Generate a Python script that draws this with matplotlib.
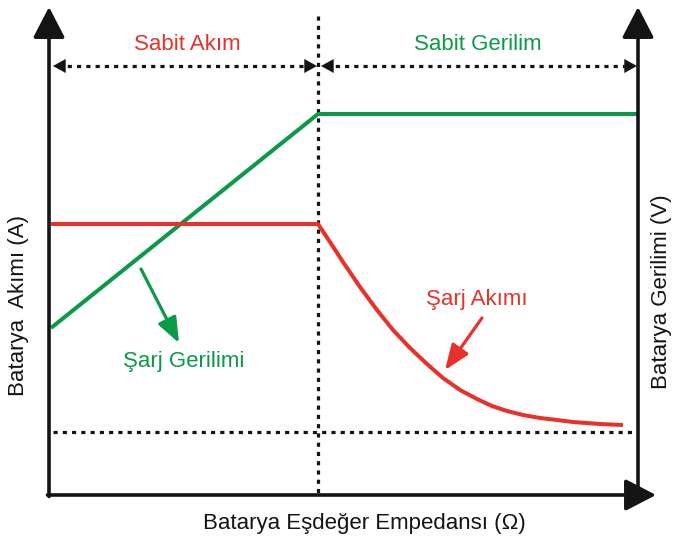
import matplotlib
matplotlib.use("Agg")
import matplotlib.pyplot as plt

plt.rcParams['font.family'] = ['Liberation Sans', 'DejaVu Sans']

RED = '#e8312a'
GREEN = '#0a9a48'
BLACK = '#141414'

# schematic coordinates (x to the right, y downward)
x_left, x_split, x_right = 49, 318, 638
y_top, y_base = 7, 495
y_dot_floor = 432
y_span = 66

# charging voltage: ramp in constant-current zone, flat afterwards
volt_x = [51, 318, 638]
volt_y = [328, 114, 114]

# charging current: flat, then decaying towards the floor line
amp_x = [51, 318, 330, 343, 360, 377, 393, 410, 427, 443, 460, 477, 492, 507, 523, 540, 557, 573, 600, 623]
amp_y = [224, 224, 242, 262, 287, 310, 330, 348, 364, 378, 390, 399, 406, 411, 415, 418, 420, 422, 424, 425]

zone_labels = ['Sabit Akım', 'Sabit Gerilim']
zone_x = [187, 478]
zone_colors = [RED, GREEN]

fig = plt.figure(figsize=(6.77, 5.45), dpi=100)
ax = fig.add_axes([0, 0, 1, 1])
ax.set_xlim(0, 677)
ax.set_ylim(545, 0)
ax.axis('off')

dots = (0, (1.3, 1.6))

# main axes with arrow heads
big = dict(arrowstyle='-|>,head_length=1.35,head_width=0.7', lw=2.6,
           color=BLACK, mutation_scale=14, shrinkA=0, shrinkB=0)
ax.annotate('', xy=(x_left, y_top), xytext=(x_left, y_base + 1.5), arrowprops=big)
ax.annotate('', xy=(x_right, y_top), xytext=(x_right, y_base + 1.5), arrowprops=big)
ax.annotate('', xy=(656, y_base), xytext=(x_left - 1.5, y_base), arrowprops=big)

# dotted guide lines
ax.plot([x_split, x_split], [16, y_base], color=BLACK, lw=2.3, ls=dots, solid_capstyle='butt')
ax.plot([x_left + 4, x_right - 2], [y_dot_floor, y_dot_floor], color=BLACK, lw=2.3, ls=dots)
ax.plot([58, x_split - 8], [y_span, y_span], color=BLACK, lw=2.3, ls=dots)
ax.plot([x_split + 8, x_right - 8], [y_span, y_span], color=BLACK, lw=2.3, ls=dots)

small = dict(arrowstyle='-|>,head_length=1.0,head_width=0.55', lw=0.1,
             color=BLACK, mutation_scale=9, shrinkA=0, shrinkB=0)
for tip, back in [(53, 60), (x_split - 1, x_split - 8), (x_split + 3, x_split + 10), (x_right - 1, x_right - 8)]:
    ax.annotate('', xy=(tip, y_span), xytext=(back, y_span), arrowprops=small)

for lab, zx, c in zip(zone_labels, zone_x, zone_colors):
    ax.text(zx, 45, lab, color=c, fontsize=16, ha='center', va='center')

# curves
ax.plot(volt_x, volt_y, color=GREEN, lw=2.9, solid_capstyle='butt', solid_joinstyle='miter')
ax.plot(amp_x, amp_y, color=RED, lw=2.9, solid_capstyle='butt', solid_joinstyle='round')

# callouts
ax.annotate('', xy=(179, 343), xytext=(141, 269),
            arrowprops=dict(arrowstyle='-|>,head_length=1.4,head_width=0.55', lw=2.3,
                            color=GREEN, mutation_scale=11, shrinkA=0, shrinkB=0))
ax.text(184, 362, 'Şarj Gerilimi', color=GREEN, fontsize=16, ha='center', va='center')

ax.annotate('', xy=(445, 370), xytext=(482, 318),
            arrowprops=dict(arrowstyle='-|>,head_length=1.4,head_width=0.55', lw=2.3,
                            color=RED, mutation_scale=11, shrinkA=0, shrinkB=0))
ax.text(477, 300, 'Şarj Akımı', color=RED, fontsize=16, ha='center', va='center')

# axis titles
ax.text(364, 524, 'Batarya Eşdeğer Empedansı (Ω)', color=BLACK, fontsize=16,
        ha='center', va='center')
ax.text(19, 305, 'Batarya  Akımı (A)', color=BLACK, fontsize=16, rotation=90,
        ha='center', va='center')
ax.text(661, 292, 'Batarya Gerilimi (V)', color=BLACK, fontsize=16, rotation=90,
        ha='center', va='center')

fig.savefig('out.png', dpi=100, facecolor='white')
